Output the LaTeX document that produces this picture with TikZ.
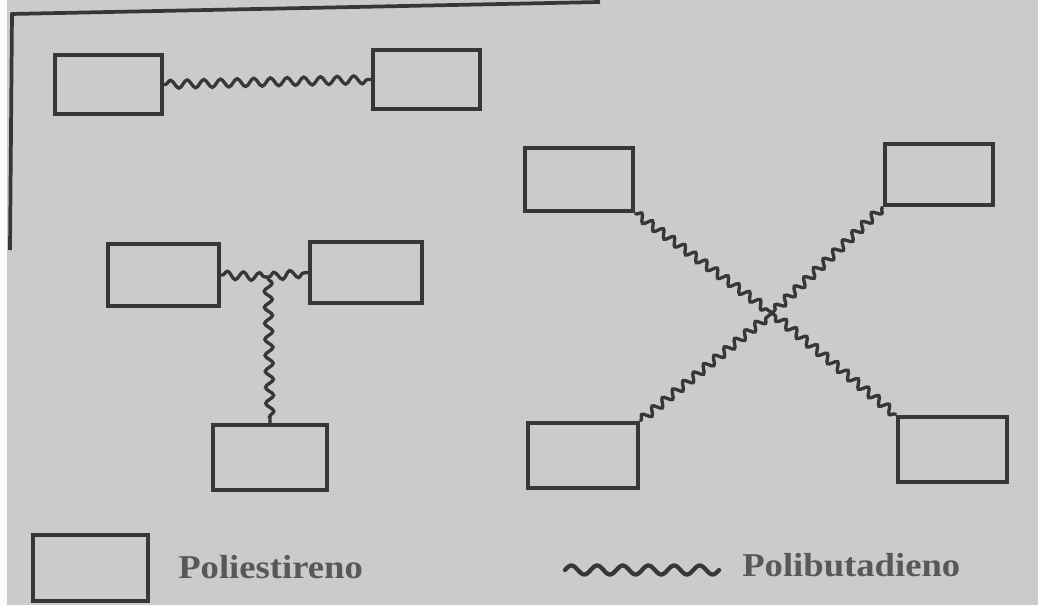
\documentclass[tikz,border=0pt]{standalone}
\usepackage{fontspec}
\setmainfont{Liberation Serif}
\usetikzlibrary{decorations.pathmorphing}
\definecolor{bgc}{RGB}{203,203,203}
\definecolor{inkc}{RGB}{55,55,55}
\definecolor{txtc}{RGB}{88,88,88}
\tikzset{
  pbox/.style={draw=inkc, line width=3pt, inner sep=0pt},
  wavy/.style={draw=inkc, line width=2.5pt, decorate,
    decoration={snake, segment length=#1, amplitude=3pt, pre length=1pt, post length=1pt}},
  wavy/.default=12pt,
  legtext/.style={anchor=base west, text=txtc, inner sep=0pt,
    font=\fontsize{25}{30}\selectfont\bfseries},
  frameline/.style={draw=inkc, line width=2.8pt}
}
\begin{document}
\begin{tikzpicture}[x=0.75pt,y=-0.75pt]
\useasboundingbox (0,0) rectangle (1038,605);
\fill[bgc] (0,0) rectangle (1038,605);
\fill[white!92!bgc] (0,0) rectangle (7,605);
% frame
\draw[frameline] (11,14) -- (600,2);
\draw[frameline] (12,13) -- (10,250);
% boxes
\node[pbox, minimum width=80.25pt, minimum height=44.25pt] (A) at (108.5,84.5) {};
\node[pbox, minimum width=80.25pt, minimum height=44.25pt] (B) at (426.5,79.5) {};
\node[pbox, minimum width=83.25pt, minimum height=46.5pt] (C) at (163.5,275) {};
\node[pbox, minimum width=84pt, minimum height=45.75pt] (D) at (366,272.5) {};
\node[pbox, minimum width=85.5pt, minimum height=48.75pt] (E) at (270,457.5) {};
\node[pbox, minimum width=81pt, minimum height=47.25pt] (F) at (579,179.5) {};
\node[pbox, minimum width=81pt, minimum height=45.75pt] (G) at (939,174.5) {};
\node[pbox, minimum width=82.5pt, minimum height=48.75pt] (H) at (583,455.5) {};
\node[pbox, minimum width=81.75pt, minimum height=48.75pt] (I) at (952.5,449.5) {};
\node[pbox, minimum width=86.25pt, minimum height=49.5pt] (L) at (90.5,568) {};
\coordinate (J) at (268,277);
\coordinate (K) at (772,313);
% connectors
\draw[wavy=12.5pt] (A.east) -- (B.west);
\draw[wavy=12pt] (C.east) -- (J);
\draw[wavy=12pt] (J) -- (D.west);
\draw[wavy=12pt] (J) -- (E.north);
\draw[wavy=10pt] (F.south east) -- (K);
\draw[wavy=10pt] (G.south west) -- (K);
\draw[wavy=10pt] (H.north east) -- (K);
\draw[wavy=10pt] (I.north west) -- (K);
% legend
\node[legtext] (t1) at (178,578) {\scalebox{1.1}[1]{Poliestireno}};
\draw[draw=inkc, line width=3.2pt, line cap=round]
  plot[domain=0:154, samples=120, smooth] ({565+\x},{570-4.5*sin(\x/25.67*360)});
\node[legtext] (t2) at (742,576) {\scalebox{1.1}[1]{Polibutadieno}};
\end{tikzpicture}
\end{document}
